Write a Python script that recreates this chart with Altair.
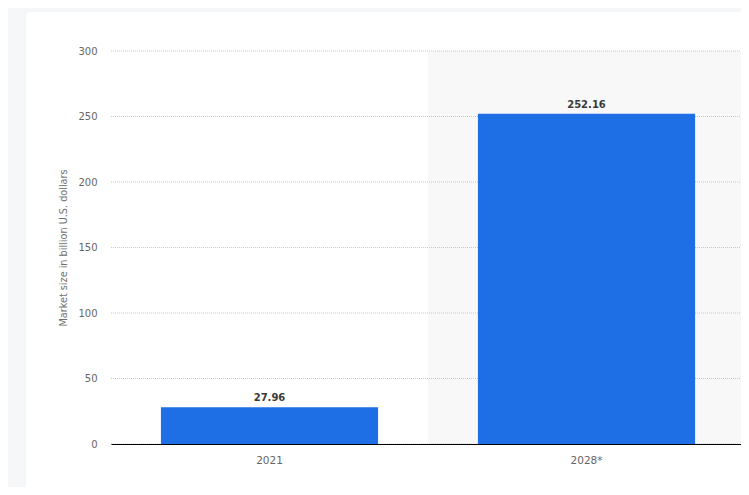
import altair as alt
import pandas as pd

categories = ["2021", "2028*"]
values = [27.96, 252.16]
labels = ["27.96", "252.16"]
y_ticks = [0, 50, 100, 150, 200, 250, 300]
shaded_category = ["2028*"]

W, H = 630, 393
XR = 634
BLUE = "#1e6ee5"
FONT = "DejaVu Sans"
Y_TITLE = "Market size in billion U.S. dollars"

df = pd.DataFrame({"cat": categories, "val": values, "lab": labels})
shade_df = pd.DataFrame({"cat": shaded_category})
card_df = pd.DataFrame({"k": [0]})
grid_df = pd.DataFrame({"t": y_ticks})

xscale = alt.Scale(domain=categories, range=[0, XR], paddingInner=0.315, paddingOuter=0.1575)
yscale = alt.Scale(domain=[0, 300], nice=False)

xaxis = alt.Axis(
    labelAngle=0,
    ticks=False,
    domain=True,
    domainColor="#000000",
    domainWidth=1,
    labelColor="#666666",
    labelFont=FONT,
    labelFontSize=10.5,
    labelPadding=11,
    grid=False,
    bandPosition=0.5,
    zindex=1,
)

yaxis = alt.Axis(
    values=y_ticks,
    domain=False,
    ticks=False,
    grid=False,
    labelColor="#666666",
    labelFont=FONT,
    labelFontSize=10,
    labelPadding=14,
    titleColor="#707070",
    titleFont=FONT,
    titleFontSize=9.7,
    titleFontWeight="normal",
    titlePadding=9,
    zindex=1,
)

card = alt.Chart(card_df).mark_rect(
    color="white", stroke="#eef0f3", strokeWidth=1, cornerRadius=4, clip=False
).encode(
    x=alt.value(-86), x2=alt.value(W + 40), y=alt.value(-40), y2=alt.value(H + 100)
)

shade = alt.Chart(shade_df).mark_bar(
    color="#f8f8f8", width=alt.RelativeBandSize(1 / (1 - 0.315))
).encode(
    x=alt.X("cat:N", scale=xscale, sort=categories, title=None, axis=xaxis),
    y=alt.value(0),
    y2=alt.value(H),
)

grid = alt.Chart(grid_df).mark_rule(
    color="#c8c8c8", strokeDash=[1, 1], strokeWidth=1
).encode(
    y=alt.Y("t:Q", scale=yscale, title=Y_TITLE, axis=yaxis),
    x=alt.value(0),
    x2=alt.value(XR),
)

bars = alt.Chart(df).mark_bar(color=BLUE).encode(
    x=alt.X("cat:N", scale=xscale, sort=categories, title=None, axis=xaxis),
    y=alt.Y("val:Q", scale=yscale, title=Y_TITLE, axis=yaxis),
)

text = alt.Chart(df).mark_text(
    font=FONT, fontSize=10, fontWeight="bold", color="#3a3a3a", dy=-6, baseline="alphabetic"
).encode(
    x=alt.X("cat:N", scale=xscale, sort=categories, title=None, axis=xaxis),
    y=alt.Y("val:Q", scale=yscale, title=Y_TITLE, axis=yaxis),
    text="lab:N",
)

chart = (
    alt.layer(card, shade, grid, bars, text)
    .properties(
        width=W,
        height=H,
        background="#f6f7f9",
        padding={"left": 103, "top": 43, "right": 0, "bottom": 43},
        autosize=alt.AutoSizeParams(type="none"),
    )
    .configure_view(stroke=None)
)

chart.save("out.html", embed_options={"renderer": "svg", "actions": False})
